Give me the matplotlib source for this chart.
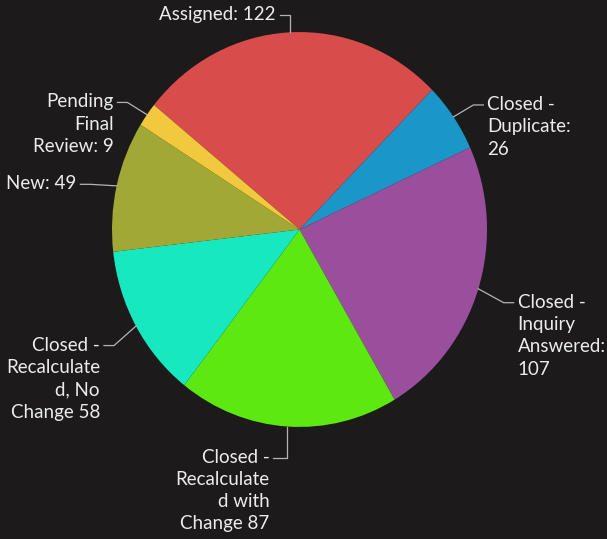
import numpy as np
import matplotlib
matplotlib.use("Agg")
import matplotlib.pyplot as plt

# data
categories = ["Assigned", "Closed - Duplicate", "Closed - Inquiry Answered",
              "Closed - Recalculated with Change", "Closed - Recalculated, No Change",
              "New", "Pending Final Review"]
counts = [122, 26, 107, 87, 58, 49, 9]
labels = ["Assigned: 122",
          "Closed -\nDuplicate:\n26",
          "Closed -\nInquiry\nAnswered:\n107",
          "Closed -\nRecalculate\nd with\nChange 87",
          "Closed -\nRecalculate\nd, No\nChange 58",
          "New: 49",
          "Pending\nFinal\nReview: 9"]
colors = ["#d94c4c", "#1a96c8", "#9a4f9c", "#5ce810", "#18e8c0", "#a2a836", "#f2c83c"]

bg = "#1c1a1a"
W, H = 607, 539
# the original picture is a little stretched vertically
k = 1.053
R = 187.5
pcx, pcy = 299.5, 229.5  # pie centre in pixels from top-left


def to_data(px, py):
    return px, (H - py) / k


cx, cy = to_data(pcx, pcy)

plt.rcParams["font.family"] = ["Lato", "DejaVu Sans"]

fig = plt.figure(figsize=(W / 100, H / 100), dpi=100, facecolor=bg)
ax = fig.add_axes([0, 0, 1, 1])
ax.set_facecolor(bg)

wedges, _ = ax.pie(counts, colors=colors, startangle=140.9, counterclock=False,
                   center=(cx, cy), radius=R, frame=True)
ax.set_xlim(0, W)
ax.set_ylim(0, H / k)
ax.set_aspect("auto")
ax.axis("off")

fs = 13.5
line_col = "#b4b4b4"

for w, lab in zip(wedges, labels):
    deg = (w.theta1 + w.theta2) / 2
    mid = np.deg2rad(deg)
    c, s = np.cos(mid), np.sin(mid)
    # edge point in pixels
    ex, ey = pcx + R * c, pcy - R * s * k
    if s > 0.95:
        # label above the pie: bracket goes right then down
        tx, ly = ex - 14, ey - 17
        ha = "right"
        pts = [(tx + 4, ly), (ex, ly), (ex, ey)]
    elif s < -0.95:
        # label below the pie: line goes down then left
        tx, ly = ex - 18, ey + 31
        ha = "right"
        pts = [(tx + 4, ly), (ex, ly), (ex, ey)]
    else:
        tx = pcx + 1.22 * R * c
        ly = pcy - 1.15 * R * s * k + 5
        if c > 0:
            ha = "left"
            pts = [(tx - 4, ly), (tx - 14, ly), (ex, ey)]
        else:
            ha = "right"
            pts = [(tx + 4, ly), (tx + 14, ly), (ex, ey)]
    xs, ys = zip(*[to_data(*p) for p in pts])
    ax.plot(xs, ys, color=line_col, lw=0.9)
    ax.text(*to_data(tx, ly - 9), lab, ha=ha, va="top", fontsize=fs,
            color="#ececec", linespacing=1.38)

fig.savefig("out.png", dpi=100, facecolor=bg)
